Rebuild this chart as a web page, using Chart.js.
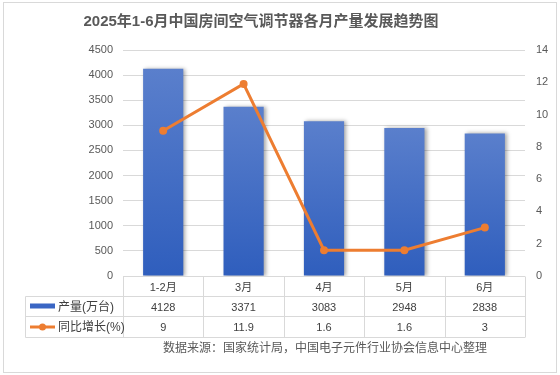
<!DOCTYPE html>
<html>
<head>
<meta charset="utf-8">
<script src="https://cdn.jsdelivr.net/npm/chart.js@4/dist/chart.umd.min.js"></script>
<style>
  body { margin: 0; background: #fff; }
  #wrap { position: relative; width: 560px; height: 375px; }
</style>
</head>
<body>
<div id="wrap"><canvas id="chart"></canvas></div>
<script>
const months = ['1-2月', '3月', '4月', '5月', '6月'];
const output = [4128, 3371, 3083, 2948, 2838];
const growth = [9, 11.9, 1.6, 1.6, 3];
const leftTicks = [0, 500, 1000, 1500, 2000, 2500, 3000, 3500, 4000, 4500];
const rightTicks = [0, 2, 4, 6, 8, 10, 12, 14];

const titleText = '2025年1-6月中国房间空气调节器各月产量发展趋势图';
const sourceText = '数据来源：国家统计局，中国电子元件行业协会信息中心整理';
const outputLabel = '产量(万台)';
const growthLabel = '同比增长(%)';

const FONT = '"Liberation Sans", "Noto Sans CJK SC", sans-serif';
const gridColor = '#d9d9d9';
const textColor = '#595959';

// gradient per bar, lighter at top
function barFill(context) {
    const chart = context.chart;
    if (!chart.chartArea) return '#3a66c4';
    const y = chart.scales.y;
    const v = context.raw || 0;
    const top = y.getPixelForValue(v);
    const bottom = y.getPixelForValue(0);
    const g = chart.ctx.createLinearGradient(0, top, 0, bottom);
    g.addColorStop(0, '#5a7fcc');
    g.addColorStop(1, '#2f5ebd');
    return g;
}

// drop shadow for the bars
const barShadow = {
    id: 'barShadow',
    beforeDatasetDraw(chart, args) {
        if (args.index !== 1) return;
        const ctx = chart.ctx;
        ctx.save();
        ctx.shadowColor = 'rgba(0,0,0,0.35)';
        ctx.shadowBlur = 4;
        ctx.shadowOffsetX = 2;
        ctx.shadowOffsetY = 0;
    },
    afterDatasetDraw(chart, args) {
        if (args.index !== 1) return;
        chart.ctx.restore();
    }
};

// title, data table, source line and frame
const extras = {
    id: 'extras',
    afterDraw(chart) {
        const ctx = chart.ctx;
        const area = chart.chartArea;
        const x = chart.scales.x;
        ctx.save();

        // frame
        ctx.strokeStyle = '#d9d9d9';
        ctx.lineWidth = 1;
        ctx.strokeRect(3.5, 2.5, 553, 370);

        // title
        ctx.fillStyle = textColor;
        ctx.font = 'bold 15px ' + FONT;
        ctx.textAlign = 'center';
        ctx.textBaseline = 'middle';
        ctx.fillText(titleText, 261, 22);

        // table
        const r0 = Math.round(area.bottom) + 0.5;
        const r1 = r0 + 20, r2 = r1 + 20, r3 = r2 + 21;
        const legLeft = 25.5;
        const colW = (area.right - area.left) / months.length;
        ctx.strokeStyle = gridColor;
        ctx.beginPath();
        ctx.moveTo(area.left, r0); ctx.lineTo(area.right, r0);
        ctx.moveTo(legLeft, r1); ctx.lineTo(area.right, r1);
        ctx.moveTo(legLeft, r2); ctx.lineTo(area.right, r2);
        ctx.moveTo(legLeft, r3); ctx.lineTo(area.right, r3);
        ctx.moveTo(legLeft, r1); ctx.lineTo(legLeft, r3);
        for (let i = 0; i <= months.length; i++) {
            const cx = Math.round(area.left + i * colW) + 0.5;
            ctx.moveTo(cx, r0); ctx.lineTo(cx, r3);
        }
        ctx.stroke();

        ctx.font = '11px ' + FONT;
        ctx.fillStyle = '#404040';
        ctx.textAlign = 'center';
        months.forEach((m, i) => {
            const cx = x.getPixelForValue(i);
            ctx.fillText(m, cx, (r0 + r1) / 2 + 1);
            ctx.fillText(String(output[i]), cx, (r1 + r2) / 2 + 1);
            ctx.fillText(String(growth[i]), cx, (r2 + r3) / 2 + 1);
        });

        // legend keys
        ctx.fillStyle = '#3a66c4';
        ctx.fillRect(30, (r1 + r2) / 2 - 3, 25, 5);
        const ly = (r2 + r3) / 2;
        ctx.strokeStyle = '#ed7d31';
        ctx.lineWidth = 3;
        ctx.beginPath(); ctx.moveTo(30, ly); ctx.lineTo(55, ly); ctx.stroke();
        ctx.fillStyle = '#ed7d31';
        ctx.beginPath(); ctx.arc(42.5, ly, 3.5, 0, Math.PI * 2); ctx.fill();

        ctx.fillStyle = '#404040';
        ctx.textAlign = 'left';
        ctx.font = '12px ' + FONT;
        ctx.fillText(outputLabel, 58, (r1 + r2) / 2 + 1);
        ctx.fillText(growthLabel, 58, ly + 1);

        // source
        ctx.fillStyle = textColor;
        ctx.textAlign = 'left';
        ctx.fillText(sourceText, 163, 349);
        ctx.restore();
    }
};

new Chart(document.getElementById('chart'), {
    data: {
        labels: months,
        datasets: [{
            type: 'line',
            label: growthLabel,
            data: growth,
            yAxisID: 'y1',
            borderColor: '#ed7d31',
            backgroundColor: '#ed7d31',
            borderWidth: 3,
            pointRadius: 4,
            pointBackgroundColor: '#ed7d31',
            pointBorderWidth: 0,
            tension: 0,
            order: 0
        }, {
            type: 'bar',
            label: outputLabel,
            data: output,
            yAxisID: 'y',
            backgroundColor: barFill,
            categoryPercentage: 1,
            barPercentage: 0.5,
            order: 1
        }]
    },
    options: {
        responsive: true,
        maintainAspectRatio: false,
        animation: false,
        layout: { padding: { top: 50, left: 0, right: 0, bottom: 0 } },
        plugins: {
            legend: { display: false },
            tooltip: { enabled: false },
            title: { display: false }
        },
        scales: {
            x: {
                grid: { display: false },
                border: { display: false },
                ticks: { display: false },
                afterFit(scale) { scale.height = 99; }
            },
            y: {
                position: 'left',
                min: 0,
                max: 4500,
                afterBuildTicks(scale) { scale.ticks = leftTicks.map(v => ({ value: v })); },
                grid: { color: gridColor, drawTicks: false },
                border: { display: false },
                ticks: {
                    color: textColor,
                    font: { size: 11, family: FONT },
                    padding: 10,
                    callback: value => String(value)
                },
                afterFit(scale) { scale.width = 123; }
            },
            y1: {
                position: 'right',
                min: 0,
                max: 14,
                afterBuildTicks(scale) { scale.ticks = rightTicks.map(v => ({ value: v })); },
                grid: { display: false, drawTicks: false },
                border: { display: false },
                ticks: {
                    color: textColor,
                    font: { size: 11, family: FONT },
                    padding: 11,
                    callback: value => String(value)
                },
                afterFit(scale) { scale.width = 35; }
            }
        }
    },
    plugins: [barShadow, extras]
});
</script>
</body>
</html>
